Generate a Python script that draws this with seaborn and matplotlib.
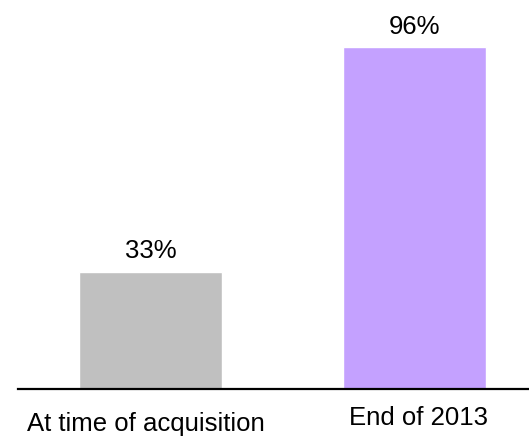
import pandas as pd
import matplotlib.pyplot as plt
import seaborn as sns

# Data
categories = ['At time of acquisition', 'End of 2013']
values = [33, 96]
labels = ['33%', '96%']
colors = ['#C0C0C0', '#C4A1FF']

df = pd.DataFrame({'period': categories, 'pct': values})

sns.set_style('white')
plt.rcParams['font.family'] = ['Liberation Sans', 'DejaVu Sans']

fig = plt.figure(figsize=(5.29, 4.37), dpi=100)
ax = fig.add_axes([18 / 529, 1 - 389 / 437, 511 / 529, 389 / 437])

sns.barplot(data=df, x='period', y='pct', hue='period', palette=colors,
            width=0.543, legend=False, ax=ax, saturation=1)

ax.set_xlim(-0.503, 1.436)
ax.set_ylim(0, 109.3)

# value labels above bars
for i, (v, lab) in enumerate(zip(values, labels)):
    ax.annotate(lab, (i, v), xytext=(0, 9.5), textcoords='offset points',
                ha='center', va='baseline', fontsize=18.5, color='black')

# category labels under axis
ax.set_xticks([])
ax.set_yticks([])
ax.set_xlabel('')
ax.set_ylabel('')
trans = ax.get_xaxis_transform()
ax.text(-0.017, -0.090, categories[0], transform=trans, ha='center', va='center',
        fontsize=18.5, color='black')
ax.text(1.015, -0.074, categories[1], transform=trans, ha='center', va='center',
        fontsize=18.5, color='black')

for s in ['top', 'right', 'left']:
    ax.spines[s].set_visible(False)
ax.spines['bottom'].set_color('black')
ax.spines['bottom'].set_linewidth(1.6)

fig.savefig('out.png', dpi=100)
